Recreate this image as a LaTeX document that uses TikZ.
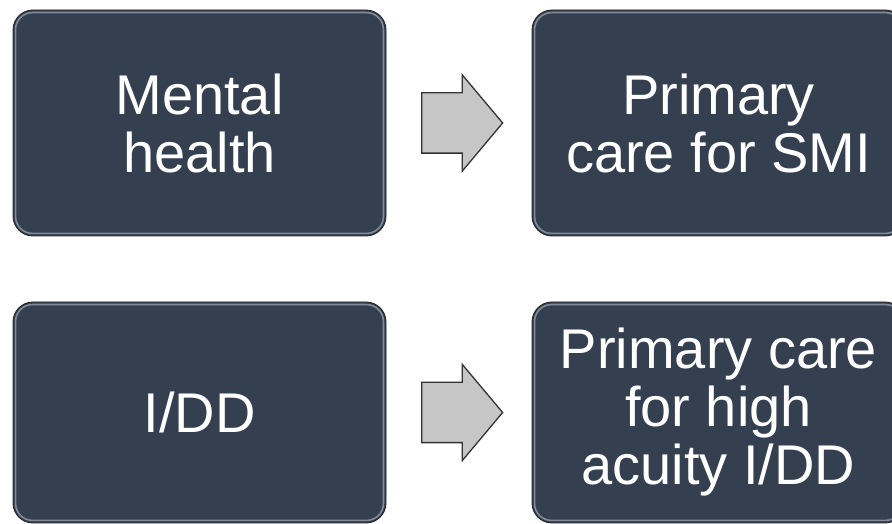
\documentclass[tikz,border=0pt]{standalone}
\usepackage{fontspec}
\setmainfont{Liberation Sans}
\usepackage{tikz}
\usetikzlibrary{calc,shapes.arrows}

\definecolor{slate}{RGB}{52,64,80}
\definecolor{slaterim}{RGB}{128,140,154}
\definecolor{arrowgrey}{RGB}{198,198,198}

\tikzset{
  stage/.style={draw=black!85, line width=0.9pt, fill=slate, rounded corners=20pt,
    minimum width=373pt, minimum height=226pt, inner sep=0pt, align=center,
    text=white, font=\fontsize{56}{58}\selectfont},
  rim/.style={draw=slaterim, line width=1.6pt, rounded corners=17pt},
  shiftarrow/.style={single arrow, draw=black!80, line width=1.3pt, fill=arrowgrey,
    minimum height=81pt, minimum width=95pt, inner xsep=0pt, inner ysep=29.5pt,
    single arrow head extend=18pt, single arrow tip angle=100},
}

\begin{document}
\begin{tikzpicture}[x=1pt,y=1pt]
  \useasboundingbox (0,0) rectangle (892,524);

  % the four stages
  \node[stage] (mh) at (199.5,401) {Mental\\health};
  \node[stage] (smi) at (718.5,401) {Primary\\care for SMI};
  \node[stage, minimum height=221pt] (idd) at (199.5,111.5) {I/DD};
  \node[stage, minimum height=221pt] (acuity) at (718.5,111.5) {Primary care\\for high\\acuity I/DD};

  % light inner edge on each box
  \foreach \n in {mh,smi,idd,acuity}
    \draw[rim] ([shift={(3pt,3pt)}]\n.south west) rectangle ([shift={(-3pt,-3pt)}]\n.north east);

  % arrows between the stages
  \node[shiftarrow, xshift=-9.5pt] (a1) at ($(mh.east)!0.5!(smi.west)$) {};
  \node[shiftarrow, xshift=-9.5pt] (a2) at ($(idd.east)!0.5!(acuity.west)$) {};
\end{tikzpicture}
\end{document}
